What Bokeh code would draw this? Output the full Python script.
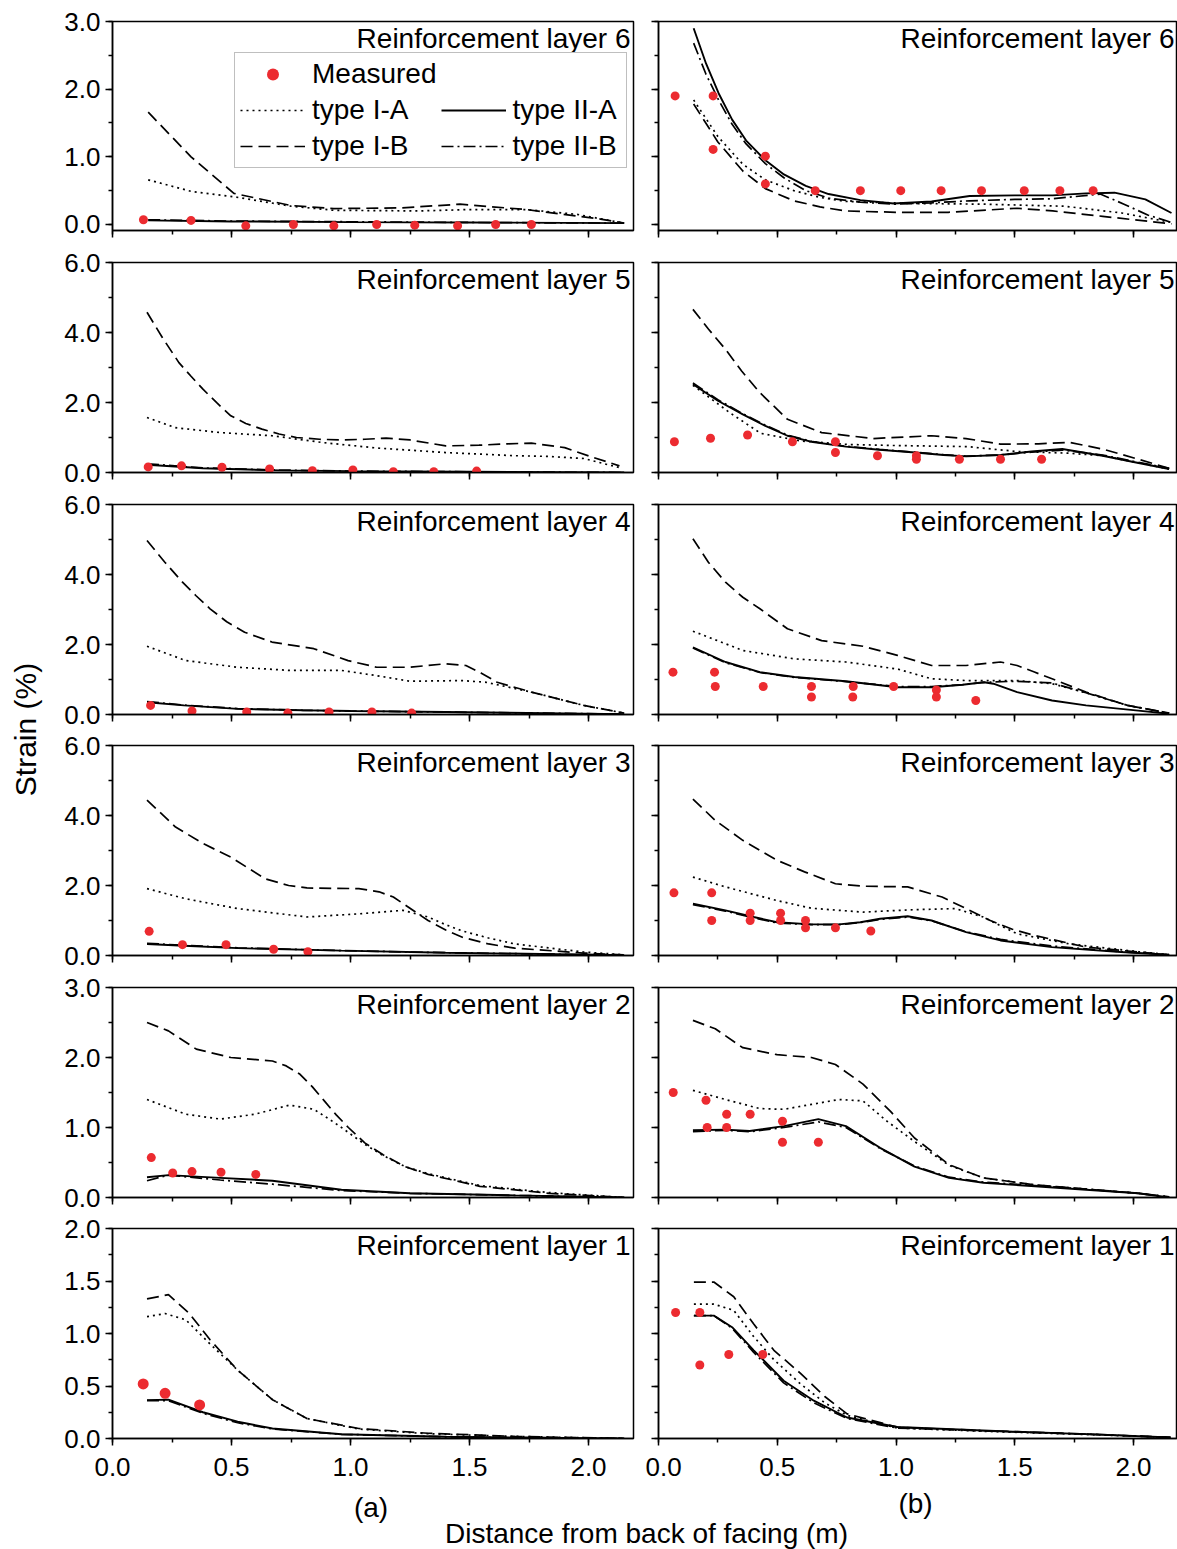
import math
from bokeh.plotting import figure
from bokeh.models import (Range1d, SingleIntervalTicker, PrintfTickFormatter, Label,
                          Legend, LegendItem)
from bokeh.layouts import row, column
from bokeh.embed import file_html
from bokeh.resources import INLINE

FONT = "Liberation Sans"
RED = "#ec2b30"

# ---------------- data (strain %, distance m) ----------------
# Layer 6 (a)
L6a_meas_x = [0.13, 0.33, 0.56, 0.76, 0.93, 1.11, 1.27, 1.45, 1.61, 1.76]
L6a_meas_y = [0.07, 0.06, -0.02, 0.0, -0.02, 0.0, -0.01, -0.02, 0.0, 0.0]
L6a_IA_x = [0.15, 0.33, 0.51, 0.75, 0.93, 1.29, 1.49, 1.74, 1.95, 2.15]
L6a_IA_y = [0.66, 0.49, 0.41, 0.27, 0.21, 0.2, 0.22, 0.22, 0.15, 0.02]
L6a_IB_x = [0.15, 0.33, 0.51, 0.75, 0.93, 1.21, 1.46, 1.74, 2.05, 2.15]
L6a_IB_y = [1.66, 1.0, 0.46, 0.28, 0.235, 0.245, 0.3, 0.22, 0.08, 0.02]
L6a_IIA_x = [0.15, 0.5, 1.0, 1.5, 2.15]
L6a_IIA_y = [0.06, 0.045, 0.035, 0.03, 0.02]
L6a_IIB_x = [0.15, 0.5, 1.0, 1.5, 2.15]
L6a_IIB_y = [0.07, 0.05, 0.04, 0.03, 0.02]

# Layer 6 (b)
L6b_meas_x = [0.07, 0.23, 0.23, 0.45, 0.45, 0.66, 0.85, 1.02, 1.19, 1.36, 1.54, 1.69, 1.83]
L6b_meas_y = [1.9, 1.9, 1.11, 1.01, 0.6, 0.5, 0.5, 0.5, 0.5, 0.5, 0.5, 0.5, 0.5]
L6b_IA_x = [0.148, 0.25, 0.355, 0.45, 0.57, 0.68, 0.79, 1.08, 1.37, 1.71, 1.95, 2.16]
L6b_IA_y = [1.84, 1.3, 0.89, 0.66, 0.5, 0.4, 0.34, 0.31, 0.3, 0.27, 0.17, 0.03]
L6b_IB_x = [0.148, 0.25, 0.355, 0.45, 0.57, 0.68, 0.79, 1.0, 1.22, 1.51, 1.66, 1.87, 2.16]
L6b_IB_y = [1.78, 1.22, 0.79, 0.53, 0.35, 0.26, 0.2, 0.18, 0.18, 0.24, 0.2, 0.12, 0.01]
L6b_IIA_x = [0.148, 0.2, 0.253, 0.31, 0.369, 0.45, 0.528, 0.62, 0.716, 0.85, 0.99, 1.15, 1.31,
             1.5, 1.66, 1.8, 1.92, 2.05, 2.16]
L6b_IIA_y = [2.9, 2.38, 1.94, 1.55, 1.24, 0.95, 0.74, 0.57, 0.45, 0.36, 0.31, 0.34, 0.42,
             0.43, 0.43, 0.46, 0.47, 0.37, 0.17]
L6b_IIB_x = [0.148, 0.2, 0.253, 0.31, 0.369, 0.45, 0.528, 0.62, 0.716, 0.85, 0.99, 1.15, 1.31,
             1.5, 1.66, 1.86, 1.96, 2.06, 2.16]
L6b_IIB_y = [2.68, 2.22, 1.84, 1.48, 1.19, 0.9, 0.69, 0.5, 0.39, 0.33, 0.3, 0.32, 0.35,
             0.37, 0.38, 0.45, 0.3, 0.14, 0.03]

# Layer 5 (a)
L5a_meas_x = [0.15, 0.29, 0.46, 0.66, 0.84, 1.01, 1.18, 1.35, 1.53]
L5a_meas_y = [0.16, 0.19, 0.15, 0.1, 0.05, 0.07, 0.02, 0.02, 0.04]
L5a_IA_x = [0.145, 0.265, 0.453, 0.67, 0.89, 1.11, 1.4, 1.69, 1.83, 1.98, 2.13]
L5a_IA_y = [1.57, 1.28, 1.14, 1.05, 0.85, 0.7, 0.57, 0.48, 0.46, 0.4, 0.14]
L5a_IB_x = [0.145, 0.21, 0.279, 0.33, 0.38, 0.44, 0.497, 0.56, 0.628, 0.7, 0.773, 0.87, 0.962,
            1.06, 1.15, 1.25, 1.4, 1.54, 1.66, 1.76, 1.9, 2.02, 2.13]
L5a_IB_y = [4.58, 3.85, 3.14, 2.75, 2.38, 1.98, 1.62, 1.4, 1.24, 1.1, 1.0, 0.95, 0.93,
            0.95, 0.98, 0.93, 0.76, 0.78, 0.82, 0.84, 0.71, 0.43, 0.19]
L5a_IIA_x = [0.145, 0.38, 0.7, 1.0, 1.5, 2.15]
L5a_IIA_y = [0.22, 0.12, 0.06, 0.04, 0.02, 0.0]
L5a_IIB_x = [0.145, 0.38, 0.7, 1.0, 1.5, 2.15]
L5a_IIB_y = [0.25, 0.13, 0.07, 0.04, 0.02, 0.0]

# Layer 5 (b)
L5b_meas_x = [0.067, 0.219, 0.375, 0.564, 0.745, 0.745, 0.922, 1.086, 1.086, 1.267, 1.44, 1.613]
L5b_meas_y = [0.88, 0.98, 1.07, 0.88, 0.88, 0.57, 0.48, 0.48, 0.38, 0.38, 0.38, 0.38]
L5b_IA_x = [0.145, 0.3, 0.43, 0.6, 0.8, 1.0, 1.3, 1.51, 1.73, 1.87, 2.15]
L5b_IA_y = [2.49, 1.71, 1.12, 0.9, 0.8, 0.77, 0.74, 0.6, 0.55, 0.48, 0.1]
L5b_IB_x = [0.145, 0.21, 0.282, 0.35, 0.427, 0.543, 0.687, 0.904, 1.15, 1.295, 1.44, 1.6,
            1.73, 1.87, 2.02, 2.15]
L5b_IB_y = [4.66, 4.1, 3.52, 2.9, 2.28, 1.52, 1.14, 0.97, 1.05, 0.97, 0.81, 0.82,
            0.86, 0.67, 0.38, 0.12]
L5b_IIA_x = [0.145, 0.25, 0.355, 0.45, 0.543, 0.65, 0.789, 0.93, 1.08, 1.2, 1.295, 1.44,
             1.57, 1.7, 1.87, 2.0, 2.15]
L5b_IIA_y = [2.52, 2.05, 1.66, 1.33, 1.05, 0.87, 0.74, 0.65, 0.57, 0.5, 0.46, 0.5,
             0.6, 0.67, 0.48, 0.3, 0.1]
L5b_IIB_x = [0.145, 0.25, 0.355, 0.45, 0.543, 0.65, 0.789, 0.93, 1.08, 1.2, 1.295, 1.44,
             1.57, 1.7, 1.87, 2.0, 2.15]
L5b_IIB_y = [2.56, 2.08, 1.68, 1.35, 1.07, 0.88, 0.75, 0.66, 0.58, 0.51, 0.47, 0.5,
             0.58, 0.64, 0.5, 0.32, 0.12]

# Layer 4 (a)
L4a_meas_x = [0.16, 0.334, 0.564, 0.737, 0.91, 1.09, 1.257]
L4a_meas_y = [0.26, 0.1, 0.07, 0.04, 0.07, 0.07, 0.04]
L4a_IA_x = [0.145, 0.308, 0.526, 0.744, 0.962, 1.11, 1.25, 1.47, 1.57, 1.76, 1.98, 2.15]
L4a_IA_y = [1.95, 1.54, 1.35, 1.26, 1.26, 1.11, 0.95, 0.97, 0.92, 0.64, 0.26, 0.04]
L4a_IB_x = [0.145, 0.22, 0.294, 0.35, 0.41, 0.48, 0.555, 0.67, 0.846, 0.99, 1.11, 1.25, 1.4,
            1.485, 1.55, 1.616, 1.76, 1.98, 2.15]
L4a_IB_y = [4.97, 4.35, 3.78, 3.4, 3.02, 2.65, 2.35, 2.07, 1.88, 1.54, 1.35, 1.35, 1.45,
            1.4, 1.18, 0.92, 0.64, 0.26, 0.04]
L4a_IIA_x = [0.145, 0.3, 0.526, 0.8, 1.0, 1.4, 2.15]
L4a_IIA_y = [0.35, 0.26, 0.16, 0.12, 0.1, 0.07, 0.01]
L4a_IIB_x = [0.145, 0.3, 0.526, 0.8, 1.0, 1.4, 2.15]
L4a_IIB_y = [0.37, 0.27, 0.17, 0.12, 0.1, 0.07, 0.01]

# Layer 4 (b)
L4b_meas_x = [0.061, 0.236, 0.239, 0.441, 0.644, 0.644, 0.82, 0.818, 0.99, 1.17, 1.17, 1.336]
L4b_meas_y = [1.21, 1.21, 0.8, 0.8, 0.8, 0.5, 0.8, 0.5, 0.8, 0.7, 0.5, 0.4]
L4b_IA_x = [0.145, 0.355, 0.572, 0.789, 1.006, 1.15, 1.295, 1.51, 1.657, 1.8, 1.975, 2.15]
L4b_IA_y = [2.38, 1.83, 1.59, 1.5, 1.3, 1.02, 0.97, 0.97, 0.88, 0.62, 0.26, 0.04]
L4b_IB_x = [0.145, 0.21, 0.282, 0.355, 0.427, 0.543, 0.687, 0.861, 1.006, 1.15, 1.295, 1.44,
            1.51, 1.58, 1.657, 1.8, 1.975, 2.15]
L4b_IB_y = [5.02, 4.35, 3.78, 3.35, 3.02, 2.45, 2.11, 1.95, 1.69, 1.4, 1.4, 1.5,
            1.4, 1.22, 1.02, 0.64, 0.26, 0.04]
L4b_IIA_x = [0.145, 0.282, 0.427, 0.572, 0.789, 1.006, 1.15, 1.28, 1.37, 1.41, 1.51, 1.657,
             1.8, 2.02, 2.15]
L4b_IIA_y = [1.92, 1.5, 1.21, 1.07, 0.95, 0.78, 0.78, 0.85, 0.92, 0.88, 0.64, 0.4,
             0.26, 0.11, 0.02]
L4b_IIB_x = [0.145, 0.282, 0.427, 0.572, 0.789, 1.006, 1.15, 1.28, 1.37, 1.5, 1.657, 1.8,
             1.975, 2.15]
L4b_IIB_y = [1.9, 1.48, 1.2, 1.06, 0.94, 0.8, 0.8, 0.85, 0.92, 0.95, 0.9, 0.62,
             0.26, 0.04]

# Layer 3 (a)
L3a_meas_x = [0.154, 0.294, 0.477, 0.677, 0.821]
L3a_meas_y = [0.69, 0.31, 0.31, 0.18, 0.11]
L3a_IA_x = [0.145, 0.308, 0.526, 0.817, 1.035, 1.22, 1.326, 1.4, 1.47, 1.58, 1.69, 1.98, 2.15]
L3a_IA_y = [1.91, 1.62, 1.34, 1.1, 1.19, 1.29, 1.1, 0.88, 0.7, 0.5, 0.33, 0.1, 0.02]
L3a_IB_x = [0.145, 0.265, 0.38, 0.497, 0.642, 0.74, 0.817, 1.035, 1.12, 1.18, 1.25, 1.326,
            1.4, 1.47, 1.58, 1.69, 1.98, 2.15]
L3a_IB_y = [4.44, 3.67, 3.2, 2.81, 2.19, 2.0, 1.93, 1.91, 1.82, 1.67, 1.35, 1.0,
            0.73, 0.52, 0.33, 0.21, 0.07, 0.02]
L3a_IIA_x = [0.145, 0.3, 0.526, 0.962, 1.4, 2.15]
L3a_IIA_y = [0.33, 0.28, 0.21, 0.14, 0.08, 0.01]
L3a_IIB_x = [0.145, 0.3, 0.526, 0.962, 1.4, 2.15]
L3a_IIB_y = [0.35, 0.29, 0.22, 0.14, 0.08, 0.01]

# Layer 3 (b)
L3b_meas_x = [0.065, 0.224, 0.224, 0.386, 0.386, 0.514, 0.514, 0.619, 0.619, 0.745, 0.894]
L3b_meas_y = [1.79, 1.79, 1.0, 1.21, 1.0, 1.21, 1.0, 1.0, 0.79, 0.79, 0.7]
L3b_IA_x = [0.145, 0.282, 0.499, 0.644, 0.861, 1.078, 1.25, 1.367, 1.44, 1.51, 1.73, 2.02, 2.15]
L3b_IA_y = [2.24, 1.96, 1.57, 1.35, 1.24, 1.31, 1.34, 1.1, 0.85, 0.62, 0.33, 0.11, 0.02]
L3b_IB_x = [0.145, 0.239, 0.355, 0.499, 0.615, 0.745, 0.861, 1.049, 1.194, 1.295, 1.397,
            1.49, 1.585, 1.8, 2.02, 2.15]
L3b_IB_y = [4.47, 3.86, 3.29, 2.72, 2.39, 2.05, 1.98, 1.96, 1.67, 1.34, 1.0,
            0.75, 0.57, 0.24, 0.1, 0.02]
L3b_IIA_x = [0.145, 0.282, 0.4, 0.499, 0.644, 0.76, 0.85, 0.933, 1.049, 1.15, 1.295, 1.44,
             1.657, 1.946, 2.15]
L3b_IIA_y = [1.48, 1.29, 1.1, 0.95, 0.89, 0.89, 0.95, 1.05, 1.12, 1.0, 0.67, 0.43,
             0.24, 0.1, 0.02]
L3b_IIB_x = [0.145, 0.282, 0.4, 0.499, 0.644, 0.76, 0.85, 0.933, 1.049, 1.15, 1.295, 1.44,
             1.657, 1.946, 2.15]
L3b_IIB_y = [1.45, 1.27, 1.08, 0.93, 0.88, 0.88, 0.94, 1.03, 1.1, 0.99, 0.68, 0.46,
             0.27, 0.11, 0.02]

# Layer 2 (a)
L2a_meas_x = [0.163, 0.253, 0.334, 0.456, 0.602]
L2a_meas_y = [0.57, 0.35, 0.37, 0.36, 0.33]
L2a_IA_x = [0.145, 0.308, 0.453, 0.599, 0.744, 0.846, 0.91, 0.962, 1.06, 1.137, 1.23, 1.326,
            1.544, 1.834, 2.15]
L2a_IA_y = [1.4, 1.19, 1.12, 1.19, 1.32, 1.26, 1.12, 1.0, 0.76, 0.6, 0.44, 0.34,
            0.17, 0.07, 0.0]
L2a_IB_x = [0.145, 0.235, 0.352, 0.497, 0.672, 0.73, 0.788, 0.84, 0.89, 0.94, 0.991, 1.06,
            1.137, 1.23, 1.326, 1.544, 1.834, 2.15]
L2a_IB_y = [2.5, 2.38, 2.12, 2.0, 1.95, 1.88, 1.76, 1.58, 1.38, 1.18, 1.0, 0.78,
            0.61, 0.44, 0.33, 0.16, 0.06, 0.0]
L2a_IIA_x = [0.145, 0.235, 0.453, 0.672, 0.962, 1.25, 1.69, 2.15]
L2a_IIA_y = [0.29, 0.32, 0.28, 0.24, 0.11, 0.06, 0.03, 0.0]
L2a_IIB_x = [0.145, 0.235, 0.453, 0.672, 0.962, 1.25, 1.69, 2.15]
L2a_IIB_y = [0.24, 0.32, 0.25, 0.19, 0.1, 0.06, 0.03, 0.0]

# Layer 2 (b)
L2b_meas_x = [0.062, 0.2, 0.205, 0.287, 0.287, 0.386, 0.522, 0.522, 0.673]
L2b_meas_y = [1.5, 1.39, 1.0, 1.19, 1.0, 1.19, 1.09, 0.79, 0.79]
L2b_IA_x = [0.145, 0.282, 0.427, 0.528, 0.644, 0.76, 0.861, 0.962, 1.078, 1.223, 1.368,
            1.585, 1.8, 2.02, 2.15]
L2b_IA_y = [1.53, 1.4, 1.27, 1.26, 1.33, 1.4, 1.38, 1.09, 0.8, 0.46, 0.28,
            0.18, 0.12, 0.06, 0.01]
L2b_IB_x = [0.145, 0.239, 0.355, 0.499, 0.644, 0.745, 0.861, 0.977, 1.078, 1.223, 1.368,
            1.585, 1.8, 2.02, 2.15]
L2b_IB_y = [2.53, 2.41, 2.14, 2.04, 2.0, 1.9, 1.62, 1.23, 0.85, 0.47, 0.28,
            0.18, 0.12, 0.06, 0.01]
L2b_IIA_x = [0.145, 0.282, 0.384, 0.528, 0.673, 0.789, 0.933, 1.078, 1.223, 1.368, 1.585,
             1.8, 2.02, 2.15]
L2b_IIA_y = [0.96, 0.97, 0.95, 1.02, 1.12, 1.02, 0.71, 0.44, 0.28, 0.21, 0.16,
             0.11, 0.06, 0.0]
L2b_IIB_x = [0.145, 0.282, 0.384, 0.528, 0.673, 0.789, 0.933, 1.078, 1.223, 1.368, 1.585,
             1.8, 2.02, 2.15]
L2b_IIB_y = [0.94, 0.96, 0.94, 1.0, 1.08, 1.0, 0.7, 0.45, 0.29, 0.22, 0.17,
             0.12, 0.06, 0.0]

# Layer 1 (a)
L1a_meas_x = [0.129, 0.221, 0.366]
L1a_meas_y = [0.52, 0.43, 0.32]
L1a_IA_x = [0.145, 0.221, 0.308, 0.41, 0.526, 0.672, 0.817, 1.035, 1.326, 1.69, 2.15]
L1a_IA_y = [1.16, 1.19, 1.13, 0.9, 0.65, 0.37, 0.19, 0.09, 0.045, 0.02, 0.0]
L1a_IB_x = [0.145, 0.235, 0.323, 0.41, 0.526, 0.672, 0.817, 1.035, 1.326, 1.69, 2.15]
L1a_IB_y = [1.33, 1.37, 1.19, 0.94, 0.65, 0.37, 0.19, 0.095, 0.05, 0.02, 0.0]
L1a_IIA_x = [0.145, 0.235, 0.38, 0.526, 0.672, 0.962, 1.4, 2.15]
L1a_IIA_y = [0.365, 0.37, 0.25, 0.16, 0.095, 0.04, 0.016, 0.0]
L1a_IIB_x = [0.145, 0.235, 0.38, 0.526, 0.672, 0.962, 1.4, 2.15]
L1a_IIB_y = [0.36, 0.36, 0.24, 0.15, 0.09, 0.04, 0.016, 0.0]

# Layer 1 (b)
L1b_meas_x = [0.072, 0.174, 0.174, 0.296, 0.439]
L1b_meas_y = [1.2, 1.2, 0.7, 0.8, 0.8]
L1b_IA_x = [0.149, 0.233, 0.317, 0.401, 0.486, 0.598, 0.7, 0.794, 1.005, 1.356, 1.777, 2.156]
L1b_IA_y = [1.28, 1.28, 1.22, 0.97, 0.75, 0.52, 0.34, 0.22, 0.1, 0.07, 0.04, 0.01]
L1b_IB_x = [0.149, 0.233, 0.317, 0.401, 0.486, 0.598, 0.7, 0.794, 1.005, 1.356, 1.777, 2.156]
L1b_IB_y = [1.49, 1.49, 1.35, 1.09, 0.84, 0.62, 0.4, 0.235, 0.108, 0.076, 0.044, 0.01]
L1b_IIA_x = [0.149, 0.233, 0.31, 0.401, 0.527, 0.654, 0.794, 1.005, 1.47, 1.89, 2.156]
L1b_IIA_y = [1.17, 1.17, 1.06, 0.84, 0.55, 0.36, 0.2, 0.11, 0.067, 0.035, 0.01]
L1b_IIB_x = [0.149, 0.233, 0.31, 0.401, 0.527, 0.654, 0.794, 1.005, 1.47, 1.89, 2.156]
L1b_IIB_y = [1.17, 1.17, 1.05, 0.82, 0.53, 0.34, 0.19, 0.1, 0.065, 0.035, 0.01]

LAYERS = [6, 5, 4, 3, 2, 1]
Y_RANGES = {6: (-0.089, 3.0), 5: (0.0, 6.0), 4: (0.0, 6.0), 3: (0.0, 6.0), 2: (0.0, 3.0), 1: (0.0, 2.0)}
Y_TICK = {6: 1.0, 5: 2.0, 4: 2.0, 3: 2.0, 2: 1.0, 1: 0.5}
TITLE = "Reinforcement layer {}"
LEGEND_LABELS = ["Measured", "type I-A", "type I-B", "type II-A", "type II-B"]
X_LABEL = "Distance from back of facing (m)"
Y_LABEL = "Strain (%)"
SUB_LABELS = ["(a)", "(b)"]

G = globals()

def series(layer, side, name):
    return G["L%d%s_%s_x" % (layer, side, name)], G["L%d%s_%s_y" % (layer, side, name)]

# ---------------- layout geometry (page has no margin) ----------------
FIG_H = [249, 242, 241, 242, 241, 272]
FRAME_H = [209, 210, 210, 210, 210, 210]
TOP_B = [21, 13, 13, 13, 13, 13]
YL_W = 48
LEFT_W, LEFT_MB_L, LEFT_MB_R = 597, 64, 12
RIGHT_W, RIGHT_MB_L, RIGHT_MB_R = 532, 13, 0
PX_PER_M = {"a": 238.0, "b": 237.5}
TXT = "28px"
TICK_TXT = "26px"
TITLE_DROP = 17      # px from frame top to the title anchor
SVG_SHIFT = 9        # renderer draws alphabetic-baseline labels about this much lower

STYLES = {
    "IA": dict(line_dash="2 4", line_width=1.7),
    "IB": dict(line_dash="12 6", line_width=1.7),
    "IIA": dict(line_dash="solid", line_width=1.9),
    "IIB": dict(line_dash="12 4 2 4", line_width=1.7),
}


def style_axis(ax, show_labels):
    ax.axis_line_width = 1.5
    ax.axis_line_color = "black"
    ax.major_tick_line_width = 1.5
    ax.minor_tick_line_width = 1.5
    ax.major_tick_line_color = "black"
    ax.minor_tick_line_color = "black"
    ax.major_tick_in = 0
    ax.major_tick_out = 7
    ax.minor_tick_in = 0
    ax.minor_tick_out = 4
    ax.major_label_text_font = FONT
    ax.major_label_text_font_size = TICK_TXT
    if show_labels:
        ax.major_label_text_color = "black"
    else:
        ax.major_label_text_color = None
        ax.major_label_standoff = 0


def make_panel(i, layer, side):
    W = LEFT_W if side == "a" else RIGHT_W
    mbl = LEFT_MB_L if side == "a" else RIGHT_MB_L
    mbr = LEFT_MB_R if side == "a" else RIGHT_MB_R
    fw = W - mbl - mbr
    x_end = fw / PX_PER_M[side]
    H, fh, tb = FIG_H[i], FRAME_H[i], TOP_B[i]
    y0, y1 = Y_RANGES[layer]
    p = figure(width=W, height=H, x_range=Range1d(0, x_end), y_range=Range1d(y0, y1),
               output_backend="svg", toolbar_location=None,
               min_border_left=mbl, min_border_right=mbr,
               min_border_top=tb, min_border_bottom=H - tb - fh)
    p.grid.visible = False
    p.outline_line_color = "black"
    p.outline_line_width = 1.5
    p.background_fill_color = "white"
    p.border_fill_color = "white"

    bottom = (i == len(LAYERS) - 1)
    p.xaxis.ticker = SingleIntervalTicker(interval=0.5, num_minor_ticks=2)
    p.xaxis.formatter = PrintfTickFormatter(format="%.1f")
    style_axis(p.xaxis[0], bottom)
    if bottom:
        p.xaxis.major_label_standoff = 12
    p.yaxis.ticker = SingleIntervalTicker(interval=Y_TICK[layer], num_minor_ticks=2)
    p.yaxis.formatter = PrintfTickFormatter(format="%.1f")
    style_axis(p.yaxis[0], side == "a")
    if side == "a":
        p.yaxis.major_label_standoff = 5

    rends = {}
    for name in ["IA", "IB", "IIA", "IIB"]:
        xs, ys = series(layer, side, name)
        rends[name] = p.line(xs, ys, line_color="black", **STYLES[name])
    mx, my = series(layer, side, "meas")
    msize = 11 if (layer == 1 and side == "a") else 9
    rends["meas"] = p.scatter(mx, my, marker="circle", size=msize, fill_color=RED,
                              line_color=RED, line_width=0)

    # panel title at top-right, 3 px from frame edge
    xr = x_end - 3.0 / PX_PER_M[side]
    yb = y1 - TITLE_DROP * (y1 - y0) / fh
    p.add_layout(Label(x=xr, y=yb, text=TITLE.format(layer), text_align="right",
                       text_baseline="alphabetic", text_font=FONT,
                       text_font_size=TXT, text_color="black"))

    if layer == 6 and side == "a":
        blank = p.line([], [], line_alpha=0)
        items = [
            LegendItem(label=LEGEND_LABELS[0], renderers=[rends["meas"]]),
            LegendItem(label=LEGEND_LABELS[1], renderers=[rends["IA"]]),
            LegendItem(label=LEGEND_LABELS[2], renderers=[rends["IB"]]),
            LegendItem(label=" ", renderers=[blank]),
            LegendItem(label=LEGEND_LABELS[3], renderers=[rends["IIA"]]),
            LegendItem(label=LEGEND_LABELS[4], renderers=[rends["IIB"]]),
        ]
        leg = Legend(items=items, location=(122, 62), orientation="vertical", nrows=3,
                     glyph_width=65, glyph_height=30, label_height=30, label_width=108,
                     label_standoff=7, spacing=4, padding=5, margin=0,
                     label_text_font=FONT, label_text_font_size=TXT,
                     label_text_color="black",
                     border_line_color="#7f7f7f", border_line_width=1,
                     background_fill_color="white", background_fill_alpha=1.0)
        p.add_layout(leg)
    return p


rows_list = []
for i, layer in enumerate(LAYERS):
    rows_list.append(row(make_panel(i, layer, "a"), make_panel(i, layer, "b")))
grid = column(*rows_list)

GRID_H = sum(FIG_H)
ylab = figure(width=YL_W, height=GRID_H, x_range=Range1d(0, YL_W), y_range=Range1d(0, GRID_H),
              output_backend="svg", toolbar_location=None, x_axis_type=None, y_axis_type=None,
              min_border_left=0, min_border_right=0, min_border_top=0, min_border_bottom=0)
ylab.outline_line_color = None
ylab.add_layout(Label(x=25, y=GRID_H - 729, text=Y_LABEL, angle=math.pi / 2,
                      text_align="center", text_baseline="middle", text_font=FONT,
                      text_font_size="30px", text_color="black"))

TOTAL_W = YL_W + LEFT_W + RIGHT_W
BOT_H = 1549 - GRID_H
bot = figure(width=TOTAL_W, height=BOT_H, x_range=Range1d(0, TOTAL_W), y_range=Range1d(0, BOT_H),
             output_backend="svg", toolbar_location=None, x_axis_type=None, y_axis_type=None,
             min_border_left=0, min_border_right=0, min_border_top=0, min_border_bottom=0)
bot.outline_line_color = None
for txt, cx, base in [(SUB_LABELS[0], 370.5, 1516), (SUB_LABELS[1], 915, 1512)]:
    bot.add_layout(Label(x=cx, y=1549 - (base - SVG_SHIFT), text=txt, text_align="center",
                         text_baseline="alphabetic", text_font=FONT, text_font_size=TXT,
                         text_color="black"))
bot.add_layout(Label(x=646, y=1549 - (1542 - SVG_SHIFT), text=X_LABEL, text_align="center",
                     text_baseline="alphabetic", text_font=FONT, text_font_size=TXT,
                     text_color="black"))

page = column(row(ylab, grid), bot)
open("out.html", "w").write(file_html(page, INLINE))
